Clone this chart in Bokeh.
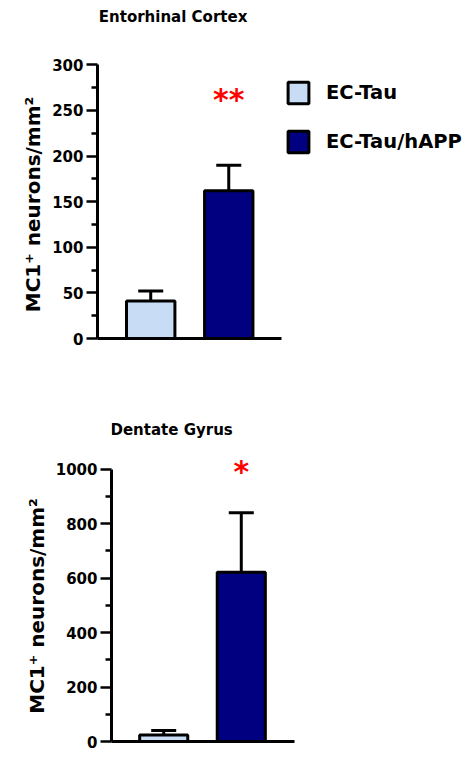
from bokeh.plotting import figure
from bokeh.models import (ColumnDataSource, Whisker, TeeHead, FixedTicker, Legend,
                          LegendItem, Label, Range1d)
from bokeh.embed import file_html
from bokeh.resources import INLINE

# ---------------- data ----------------
groups = ["EC-Tau", "EC-Tau/hAPP"]
ec_mean = [41, 162]
ec_sem = [11, 28]
dg_mean = [24, 621]
dg_sem = [16, 219]
ec_ticks = [0, 50, 100, 150, 200, 250, 300]
ec_minor = [25, 75, 125, 175, 225, 275]
dg_ticks = [0, 200, 400, 600, 800, 1000]
dg_minor = [100, 300, 500, 700, 900]
ec_sig = "**"
dg_sig = "*"
y_label = "MC1\u207a neurons/mm\u00b2"

bar_colors = ["#c9dcf5", "#000080"]
FONT = "DejaVu Sans"
# trailing em/en spaces centre the rotated label on the 0..max axis span
LABEL_PAD = "\u2003\u2003\u2003\u2002"


def make_panel(title, means, sems, ticks, minor, fw, fh, left, right, bottom,
               x_start, x_end, y_end, title_x, title_y):
    xs = [1, 2]
    src = ColumnDataSource(dict(x=xs, top=means,
                                upper=[m + s for m, s in zip(means, sems)],
                                color=bar_colors))
    p = figure(frame_width=fw, frame_height=fh, x_range=Range1d(x_start, x_end),
               y_range=Range1d(0, y_end), output_backend="svg", title=None,
               toolbar_location=None, min_border_left=left, min_border_right=right,
               min_border_top=0, min_border_bottom=bottom)
    p.outline_line_color = None
    p.grid.visible = False
    p.background_fill_color = "white"
    p.border_fill_color = "white"

    p.add_layout(Label(x=title_x, y=title_y, text=title, text_font=FONT,
                       text_font_style="bold", text_font_size="15px",
                       text_color="black", text_align="left", text_baseline="middle"))

    whisk = Whisker(source=src, base="x", upper="upper", lower="top",
                    line_width=3, line_color="black",
                    upper_head=TeeHead(size=25, line_width=3, line_color="black"),
                    lower_head=None, level="underlay")
    p.add_layout(whisk)
    bars = p.vbar(x="x", top="top", bottom=0, width=0.62, fill_color="color",
                  line_color="black", line_width=3, source=src)

    ya = p.yaxis[0]
    ya.bounds = (ticks[0], ticks[-1])
    ya.ticker = FixedTicker(ticks=ticks, minor_ticks=minor)
    ya.axis_line_width = 3
    ya.major_tick_line_width = 2.5
    ya.minor_tick_line_width = 2.5
    ya.major_tick_out = 11
    ya.major_tick_in = 0
    ya.minor_tick_out = 6
    ya.minor_tick_in = 0
    ya.major_label_text_font = FONT
    ya.major_label_text_font_style = "bold"
    ya.major_label_text_font_size = "15px"
    ya.major_label_text_color = "black"
    ya.major_label_standoff = 3
    ya.axis_label = y_label + LABEL_PAD
    ya.axis_label_text_font = FONT
    ya.axis_label_text_font_style = "bold"
    ya.axis_label_text_font_size = "20px"
    ya.axis_label_text_color = "black"
    ya.axis_label_standoff = 4

    xa = p.xaxis[0]
    xa.ticker = FixedTicker(ticks=[])
    xa.axis_line_width = 3
    xa.major_tick_line_color = None
    xa.minor_tick_line_color = None
    xa.major_label_text_font_size = "0px"
    return p, bars


p1, bars1 = make_panel("Entorhinal Cortex", ec_mean, ec_sem, ec_ticks, ec_minor,
                       fw=184, fh=338, left=97, right=188, bottom=62,
                       x_start=0.318, x_end=2.676, y_end=370.5,
                       title_x=0.335, title_y=352)
p1.add_layout(Label(x=2, y=262.5, text=ec_sig, text_color="#ff0000", text_font=FONT,
                    text_font_style="bold", text_font_size="30px",
                    text_align="center", text_baseline="alphabetic"))

legend = Legend(items=[LegendItem(label=groups[0], renderers=[bars1], index=0),
                       LegendItem(label=groups[1], renderers=[bars1], index=1)],
                location=(4, 183), glyph_width=26, glyph_height=27, label_height=27,
                label_standoff=15, spacing=22, padding=0, margin=0,
                border_line_color=None, background_fill_alpha=0,
                label_text_font=FONT, label_text_font_style="bold",
                label_text_font_size="19.5px", label_text_color="black")
p1.add_layout(legend, "right")

p2, bars2 = make_panel("Dentate Gyrus", dg_mean, dg_sem, dg_ticks, dg_minor,
                       fw=183, fh=341, left=111, right=175, bottom=22,
                       x_start=0.327, x_end=2.686, y_end=1252,
                       title_x=0.314, title_y=1144)
p2.add_layout(Label(x=2, y=993, text=dg_sig, text_color="#ff0000", text_font=FONT,
                    text_font_style="bold", text_font_size="30px",
                    text_align="center", text_baseline="alphabetic"))

open("out.html", "w").write(file_html([p1, p2], INLINE))
